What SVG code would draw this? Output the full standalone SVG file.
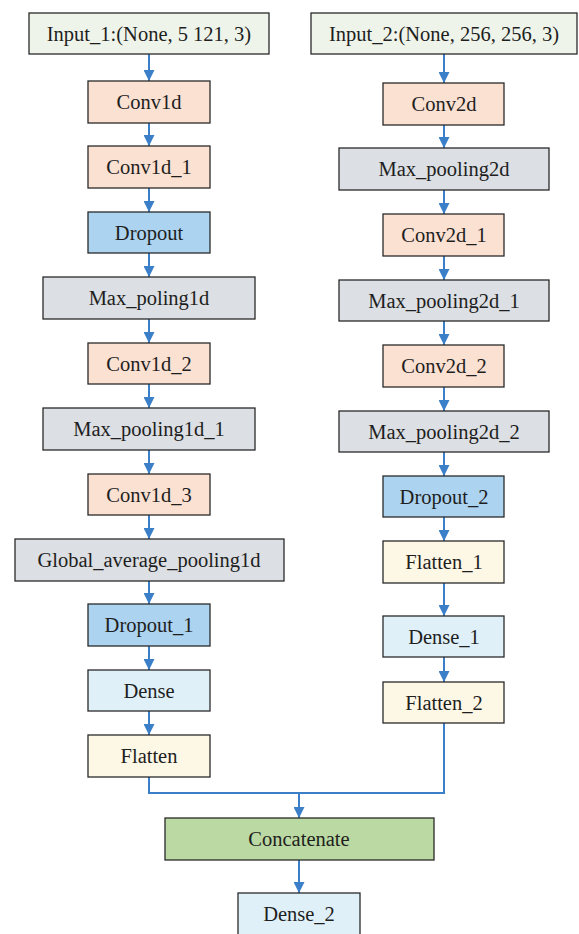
<svg xmlns="http://www.w3.org/2000/svg" width="579" height="934" viewBox="0 0 579 934">
<style>
.n{stroke:#2a2a2a;stroke-width:1.3}
.t{font-family:"Liberation Serif","Times New Roman",serif;font-size:20.5px;fill:#1e1e1e;text-anchor:middle}
.inp{fill:#eef4ea}.cv{fill:#fbe1d2}.dr{fill:#acd3ef}.mp{fill:#dcdfe3}.de{fill:#e0f0f8}.fl{fill:#fdf7e5}.cc{fill:#bbd9a2}
.c{fill:none;stroke:#3b7fc8;stroke-width:2}
</style>
<defs>
<marker id="ah" markerUnits="userSpaceOnUse" markerWidth="12" markerHeight="11" refX="11" refY="5.5" orient="auto" viewBox="0 0 11 11">
<path d="M0,0 L11,5.5 L0,11 Z" fill="#3b7fc8"/>
</marker>
</defs>
<rect width="579" height="934" fill="#fff"/>
<g id="connectors">
<path class="c" d="M149,54 V81" marker-end="url(#ah)"/>
<path class="c" d="M149,123 V146" marker-end="url(#ah)"/>
<path class="c" d="M149,188 V212" marker-end="url(#ah)"/>
<path class="c" d="M149,253 V277" marker-end="url(#ah)"/>
<path class="c" d="M149,319 V343" marker-end="url(#ah)"/>
<path class="c" d="M149,384 V408" marker-end="url(#ah)"/>
<path class="c" d="M149,450 V474" marker-end="url(#ah)"/>
<path class="c" d="M149,515 V539" marker-end="url(#ah)"/>
<path class="c" d="M149,581 V604" marker-end="url(#ah)"/>
<path class="c" d="M149,646 V670" marker-end="url(#ah)"/>
<path class="c" d="M149,711 V735" marker-end="url(#ah)"/>
<path class="c" d="M444,54 V83" marker-end="url(#ah)"/>
<path class="c" d="M444,125 V148" marker-end="url(#ah)"/>
<path class="c" d="M444,190 V214" marker-end="url(#ah)"/>
<path class="c" d="M444,256 V280" marker-end="url(#ah)"/>
<path class="c" d="M444,321 V345" marker-end="url(#ah)"/>
<path class="c" d="M444,387 V411" marker-end="url(#ah)"/>
<path class="c" d="M444,452 V476" marker-end="url(#ah)"/>
<path class="c" d="M444,517 V541" marker-end="url(#ah)"/>
<path class="c" d="M444,583 V616" marker-end="url(#ah)"/>
<path class="c" d="M444,657 V682" marker-end="url(#ah)"/>
<path class="c" d="M149,777 V793 H444 V723"/>
<path class="c" d="M299,793 V818" marker-end="url(#ah)"/>
<path class="c" d="M299,860 V893" marker-end="url(#ah)"/>
</g>
<g id="input1"><rect class="n inp" x="29" y="13" width="240" height="41"/><text class="t" x="149" y="40.5">Input_1:(None, 5 121, 3)</text></g>
<g id="conv1d"><rect class="n cv" x="88" y="81" width="122" height="42"/><text class="t" x="149" y="108.5">Conv1d</text></g>
<g id="conv1d_1"><rect class="n cv" x="88" y="146" width="122" height="42"/><text class="t" x="149" y="173.5">Conv1d_1</text></g>
<g id="dropout"><rect class="n dr" x="88" y="212" width="122" height="41"/><text class="t" x="149" y="239.5">Dropout</text></g>
<g id="max_poling1d"><rect class="n mp" x="43" y="277" width="212" height="42"/><text class="t" x="149" y="304.5">Max_poling1d</text></g>
<g id="conv1d_2"><rect class="n cv" x="88" y="343" width="122" height="41"/><text class="t" x="149" y="370.5">Conv1d_2</text></g>
<g id="max_pooling1d_1"><rect class="n mp" x="43" y="408" width="212" height="42"/><text class="t" x="149" y="435.5">Max_pooling1d_1</text></g>
<g id="conv1d_3"><rect class="n cv" x="88" y="474" width="122" height="41"/><text class="t" x="149" y="501.5">Conv1d_3</text></g>
<g id="global_average_pooling1d"><rect class="n mp" x="15" y="539" width="269" height="42"/><text class="t" x="149" y="566.5">Global_average_pooling1d</text></g>
<g id="dropout_1"><rect class="n dr" x="88" y="604" width="122" height="42"/><text class="t" x="149" y="631.5">Dropout_1</text></g>
<g id="dense"><rect class="n de" x="88" y="670" width="122" height="41"/><text class="t" x="149" y="697.5">Dense</text></g>
<g id="flatten"><rect class="n fl" x="88" y="735" width="122" height="42"/><text class="t" x="149" y="762.5">Flatten</text></g>
<g id="input2"><rect class="n inp" x="311" y="13" width="266" height="41"/><text class="t" x="444" y="40.5">Input_2:(None, 256, 256, 3)</text></g>
<g id="conv2d"><rect class="n cv" x="383" y="83" width="121" height="42"/><text class="t" x="444" y="110.5">Conv2d</text></g>
<g id="max_pooling2d"><rect class="n mp" x="339" y="148" width="210" height="42"/><text class="t" x="444" y="175.5">Max_pooling2d</text></g>
<g id="conv2d_1"><rect class="n cv" x="383" y="214" width="121" height="42"/><text class="t" x="444" y="241.5">Conv2d_1</text></g>
<g id="max_pooling2d_1"><rect class="n mp" x="339" y="280" width="210" height="41"/><text class="t" x="444" y="307.5">Max_pooling2d_1</text></g>
<g id="conv2d_2"><rect class="n cv" x="383" y="345" width="121" height="42"/><text class="t" x="444" y="372.5">Conv2d_2</text></g>
<g id="max_pooling2d_2"><rect class="n mp" x="339" y="411" width="210" height="41"/><text class="t" x="444" y="438.5">Max_pooling2d_2</text></g>
<g id="dropout_2"><rect class="n dr" x="383" y="476" width="121" height="41"/><text class="t" x="444" y="503.5">Dropout_2</text></g>
<g id="flatten_1"><rect class="n fl" x="383" y="541" width="121" height="42"/><text class="t" x="444" y="568.5">Flatten_1</text></g>
<g id="dense_1"><rect class="n de" x="383" y="616" width="121" height="41"/><text class="t" x="444" y="643.5">Dense_1</text></g>
<g id="flatten_2"><rect class="n fl" x="383" y="682" width="121" height="41"/><text class="t" x="444" y="709.5">Flatten_2</text></g>
<g id="concatenate"><rect class="n cc" x="165" y="818" width="269" height="42"/><text class="t" x="299" y="845.5">Concatenate</text></g>
<g id="dense_2"><rect class="n de" x="238" y="893" width="122" height="50"/><text class="t" x="299" y="920.5">Dense_2</text></g>
</svg>
